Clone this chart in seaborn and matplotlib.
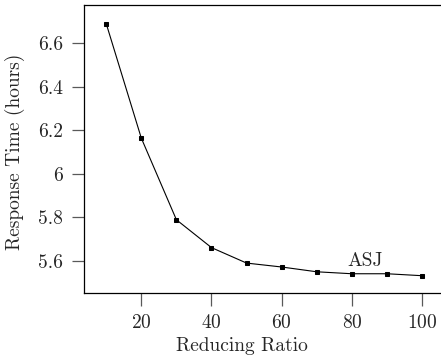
import matplotlib
matplotlib.use('Agg')
import matplotlib.pyplot as plt
import seaborn as sns
import pandas as pd
from matplotlib.ticker import FuncFormatter

ratio = [10, 20, 30, 40, 50, 60, 70, 80, 90, 100]
resp_time = [6.689, 6.163, 5.788, 5.660, 5.589, 5.571, 5.549, 5.540, 5.540, 5.531]
y_ticks = [5.6, 5.8, 6.0, 6.2, 6.4, 6.6]
x_ticks = [20, 40, 60, 80, 100]

df = pd.DataFrame({'ratio': ratio, 'time': resp_time})

sns.set_style('ticks')
plt.rcParams['font.family'] = 'serif'
plt.rcParams['font.serif'] = ['cmr10', 'DejaVu Serif']
plt.rcParams['axes.formatter.use_mathtext'] = True
plt.rcParams['mathtext.fontset'] = 'cm'

fig = plt.figure(figsize=(4.41, 3.58), dpi=100)
ax = fig.add_axes([0.1905, 0.1816, 0.8095, 0.8044])

sns.lineplot(x='ratio', y='time', data=df, ax=ax, color='black', linewidth=0.8,
             marker='s', markersize=3.5, markeredgecolor='black')

ax.text(83.7, 5.557, 'ASJ', ha='center', va='bottom', fontsize=14)

ax.set_xlim(3.67, 105.4)
ax.set_ylim(5.4516, 6.7746)
ax.set_xticks(x_ticks)
ax.set_yticks(y_ticks)
ax.yaxis.set_major_formatter(FuncFormatter(lambda v, p: '%g' % round(v, 2)))

ax.tick_params(axis='both', direction='out', length=9, width=0.9, color='0.35',
               labelsize=14, pad=6)
ax.spines['right'].set_visible(False)
for s in ['left', 'bottom', 'top']:
    ax.spines[s].set_linewidth(0.9)
    ax.spines[s].set_color('black')

ax.set_xlabel('Reducing Ratio', fontsize=14)
ax.set_ylabel('Response Time (hours)', fontsize=14)
ax.xaxis.set_label_coords(0.442, -0.153)
ax.yaxis.set_label_coords(-0.165, 0.49)

fig.savefig('out.png', dpi=100)
